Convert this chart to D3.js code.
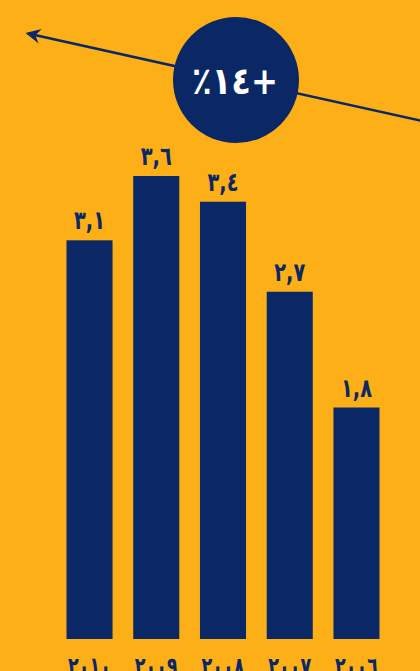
<!DOCTYPE html>
<html>
<head>
<meta charset="utf-8">
<script src="https://cdn.jsdelivr.net/npm/d3@7"></script>
<style>
  html, body { margin: 0; padding: 0; background: #FCAF17; overflow: hidden; }
  svg { display: block; }
</style>
</head>
<body>
<div id="chart"></div>
<script>
// data (right-to-left chart: first year sits at the right)
const years = ['٢٠٠٦', '٢٠٠٧', '٢٠٠٨', '٢٠٠٩', '٢٠١٠'];
const values = [1.8, 2.7, 3.4, 3.6, 3.1];
const valueLabels = ['١,٨', '٢,٧', '٣,٤', '٣,٦', '٣,١'];
const growthLabel = '٪١٤+';

const W = 420, H = 671;
const navy = '#0B2866';
const bg = '#FCAF17';
const font = '"DejaVu Sans", sans-serif';

const svg = d3.select('#chart')
    .append('svg')
    .attr('width', W)
    .attr('height', H);

svg.append('rect')
    .attr('width', W)
    .attr('height', H)
    .attr('fill', bg);

// scales
const x = d3.scaleBand()
    .domain(years)
    .range([379.5, 66.5])
    .paddingInner(0.31)
    .paddingOuter(0);

const y = d3.scaleLinear()
    .domain([0, 3.6])
    .range([639, 176]);

// trend arrow behind the badge
svg.append('defs').append('marker')
    .attr('id', 'head')
    .attr('viewBox', '0 0 12 12')
    .attr('refX', 10)
    .attr('refY', 6)
    .attr('markerWidth', 6)
    .attr('markerHeight', 6)
    .attr('markerUnits', 'strokeWidth')
    .attr('orient', 'auto')
    .append('path')
    .attr('d', 'M12,6 L0,0 L4,6 L0,12 Z')
    .attr('fill', navy);

svg.append('line')
    .attr('x1', 422).attr('y1', 121)
    .attr('x2', 28).attr('y2', 33.5)
    .attr('stroke', navy)
    .attr('stroke-width', 2.5)
    .attr('marker-end', 'url(#head)');

// bars
svg.selectAll('rect.bar')
    .data(values)
    .enter()
    .append('rect')
    .attr('class', 'bar')
    .attr('x', (d, i) => x(years[i]))
    .attr('y', d => y(d))
    .attr('width', x.bandwidth())
    .attr('height', d => y(0) - y(d))
    .attr('fill', navy);

// value labels
svg.selectAll('text.val')
    .data(values)
    .enter()
    .append('text')
    .attr('class', 'val')
    .attr('x', (d, i) => x(years[i]) + x.bandwidth() / 2)
    .attr('y', d => y(d) - 11)
    .attr('text-anchor', 'middle')
    .attr('direction', 'ltr')
    .attr('unicode-bidi', 'bidi-override')
    .attr('font-family', font)
    .attr('font-weight', 'bold')
    .attr('font-size', 26)
    .attr('textLength', 31)
    .attr('lengthAdjust', 'spacingAndGlyphs')
    .attr('fill', navy)
    .text((d, i) => valueLabels[i]);

// year axis
const xAxis = svg.append('g')
    .attr('transform', `translate(0,${y(0)})`)
    .call(d3.axisBottom(x).tickSize(0).tickPadding(37));
xAxis.select('.domain').remove();
xAxis.selectAll('text')
    .attr('font-family', font)
    .attr('font-weight', 'bold')
    .attr('font-size', 27)
    .attr('textLength', 43)
    .attr('lengthAdjust', 'spacingAndGlyphs')
    .attr('fill', navy)
    .attr('direction', 'ltr')
    .attr('unicode-bidi', 'bidi-override')
    .attr('dy', 0);

// growth badge
svg.append('circle')
    .attr('cx', 236)
    .attr('cy', 80)
    .attr('r', 63)
    .attr('fill', navy);

svg.append('text')
    .attr('x', 235)
    .attr('y', 94)
    .attr('text-anchor', 'middle')
    .attr('direction', 'ltr')
    .attr('unicode-bidi', 'bidi-override')
    .attr('font-family', font)
    .attr('font-weight', 'bold')
    .attr('font-size', 38)
    .attr('textLength', 86)
    .attr('lengthAdjust', 'spacingAndGlyphs')
    .attr('fill', '#fff')
    .text(growthLabel);
</script>
</body>
</html>
